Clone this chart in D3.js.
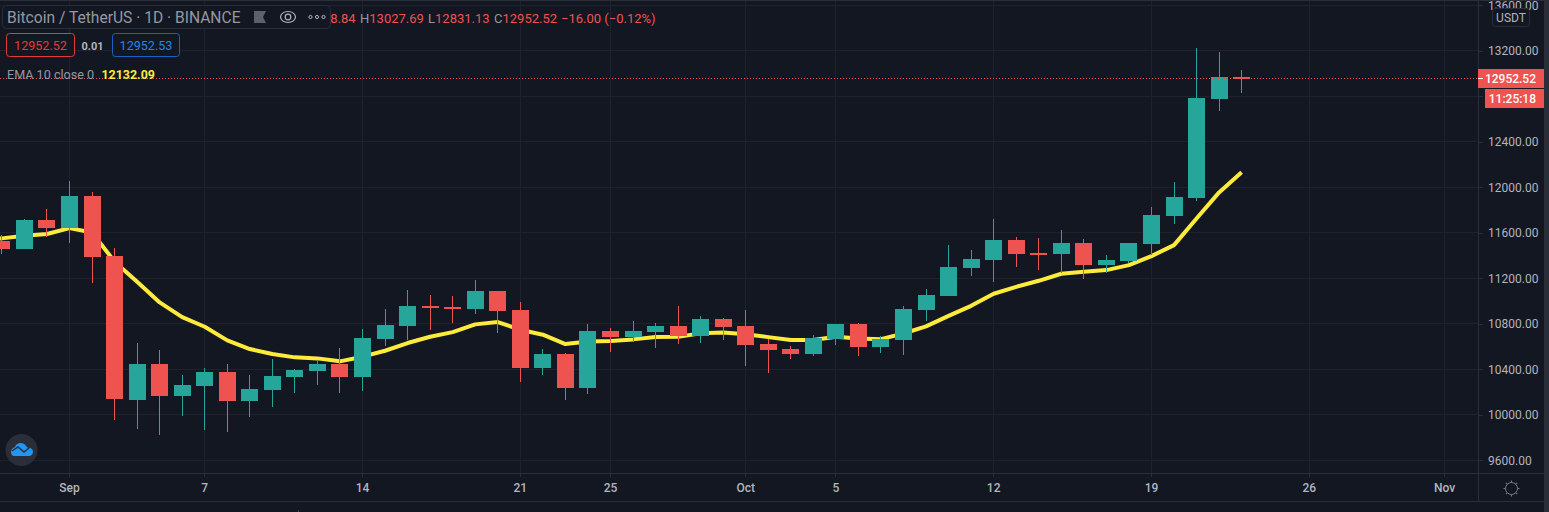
<!DOCTYPE html>
<html>
<head>
<meta charset="utf-8">
<script src="https://cdnjs.cloudflare.com/ajax/libs/d3/7.8.5/d3.min.js"></script>
<style>
html, body { margin: 0; padding: 0; background: #131722; overflow: hidden; }
text { font-family: Roboto, "Liberation Sans", sans-serif; }
</style>
</head>
<body>
<div id="chart"></div>
<script>
var days = ["2020-08-28", "2020-08-29", "2020-08-30", "2020-08-31", "2020-09-01", "2020-09-02", "2020-09-03", "2020-09-04", "2020-09-05", "2020-09-06", "2020-09-07", "2020-09-08", "2020-09-09", "2020-09-10", "2020-09-11", "2020-09-12", "2020-09-13", "2020-09-14", "2020-09-15", "2020-09-16", "2020-09-17", "2020-09-18", "2020-09-19", "2020-09-20", "2020-09-21", "2020-09-22", "2020-09-23", "2020-09-24", "2020-09-25", "2020-09-26", "2020-09-27", "2020-09-28", "2020-09-29", "2020-09-30", "2020-10-01", "2020-10-02", "2020-10-03", "2020-10-04", "2020-10-05", "2020-10-06", "2020-10-07", "2020-10-08", "2020-10-09", "2020-10-10", "2020-10-11", "2020-10-12", "2020-10-13", "2020-10-14", "2020-10-15", "2020-10-16", "2020-10-17", "2020-10-18", "2020-10-19", "2020-10-20", "2020-10-21", "2020-10-22", "2020-10-23"];
var opens = [11560, 11530, 11457, 11712, 11641, 11923, 11395, 10130, 10446, 10165, 10253, 10376, 10121, 10218, 10332, 10385, 10446, 10332, 10666, 10780, 10956, 10947, 10929, 11088, 10921, 10411, 10534, 10235, 10736, 10683, 10727, 10780, 10692, 10842, 10780, 10622, 10578, 10534, 10665, 10797, 10595, 10657, 10920, 11043, 11289, 11360, 11535, 11421, 11412, 11509, 11316, 11351, 11501, 11747, 11905, 12775, 12968.84];
var highs = [11600, 11580, 11720, 11808, 12054, 11958, 11466, 10631, 10569, 10350, 10411, 10446, 10350, 10490, 10402, 10481, 10587, 10754, 10929, 11096, 11052, 11044, 11184, 11088, 10991, 10578, 10543, 10798, 10762, 10824, 10806, 10956, 10868, 10850, 10921, 10663, 10604, 10701, 10797, 10806, 10692, 10955, 11105, 11491, 11448, 11720, 11562, 11553, 11623, 11544, 11404, 11509, 11826, 12045, 13223, 13188, 13027.69];
var lows = [11400, 11413, 11457, 11565, 11510, 11158, 9954, 9875, 9822, 9989, 9866, 9849, 9981, 10068, 10191, 10262, 10191, 10209, 10604, 10657, 10745, 10806, 10885, 10719, 10288, 10350, 10130, 10183, 10552, 10639, 10587, 10622, 10631, 10657, 10429, 10367, 10490, 10516, 10613, 10516, 10542, 10525, 10824, 11043, 11219, 11166, 11298, 11272, 11245, 11193, 11245, 11333, 11404, 11676, 11878, 12669, 12831.13];
var closes = [11530, 11457, 11712, 11641, 11923, 11387, 10139, 10446, 10165, 10262, 10376, 10121, 10227, 10341, 10394, 10446, 10332, 10675, 10789, 10956, 10938, 10929, 11088, 10912, 10411, 10534, 10235, 10736, 10683, 10736, 10780, 10692, 10842, 10771, 10613, 10569, 10534, 10674, 10797, 10595, 10665, 10929, 11052, 11298, 11368, 11535, 11412, 11412, 11509, 11316, 11360, 11509, 11755, 11914, 12783, 12968, 12952.52];
var emaValues = [11530, 11551, 11574, 11589, 11641, 11603, 11346, 11170, 10988, 10859, 10774, 10654, 10578, 10534, 10505, 10496, 10470, 10511, 10563, 10631, 10686, 10727, 10795, 10815, 10748, 10704, 10622, 10645, 10648, 10663, 10683, 10686, 10716, 10724, 10709, 10683, 10657, 10657, 10686, 10671, 10665, 10715, 10777, 10870, 10958, 11064, 11125, 11178, 11240, 11257, 11272, 11316, 11395, 11492, 11726, 11955, 12132.09];
var priceTicks = [9600, 10000, 10400, 10800, 11200, 11600, 12000, 12400, 12800, 13200, 13600];
var timeTicks = ["2020-09-01", "2020-09-07", "2020-09-14", "2020-09-21", "2020-09-25", "2020-10-01", "2020-10-05", "2020-10-12", "2020-10-19", "2020-10-26", "2020-11-01"];
var timeLabels = ["Sep", "7", "14", "21", "25", "Oct", "5", "12", "19", "26", "Nov"];
var lastPrice = 12952.52;

var width = 1549, height = 512,
    paneWidth = 1478, paneHeight = 473, stripX = 1544, bottomY = 501;
var upColor = "#26a69a", downColor = "#ef5350", gridColor = "#1e222d", lineColor = "#2a2e39", textColor = "#b2b5be", dimText = "#9598a1";
var parseDay = d3.utcParse("%Y-%m-%d");

var x = d3.scaleUtc()
    .domain([parseDay("2020-09-01"), parseDay("2020-11-01")])
    .range([69.5, 1444.5]);
var y = d3.scaleLinear()
    .domain([9600, 13600])
    .range([460.3, 5.3]);

var candles = days.map(function (d, i) {
    return {day: parseDay(d), open: opens[i], high: highs[i], low: lows[i], close: closes[i], ema: emaValues[i]};
});

var svg = d3.select("#chart")
    .append("svg")
    .attr("width", width)
    .attr("height", height)
    .style("display", "block");
svg.append("rect")
    .attr("width", width)
    .attr("height", height)
    .attr("fill", "#131722");
svg.append("clipPath")
    .attr("id", "pane")
    .append("rect")
    .attr("width", paneWidth)
    .attr("height", paneHeight);

// grid
var pane = svg.append("g").attr("clip-path", "url(#pane)");
pane.selectAll(".hgrid").data(priceTicks).enter().append("line")
    .attr("x1", 0).attr("x2", paneWidth)
    .attr("y1", function (d) { return Math.floor(y(d)) + 0.5; })
    .attr("y2", function (d) { return Math.floor(y(d)) + 0.5; })
    .attr("stroke", gridColor);
pane.selectAll(".vgrid").data(timeTicks).enter().append("line")
    .attr("x1", function (d) { return Math.floor(x(parseDay(d))) + 0.5; })
    .attr("x2", function (d) { return Math.floor(x(parseDay(d))) + 0.5; })
    .attr("y1", 0).attr("y2", paneHeight)
    .attr("stroke", gridColor);

// ema under the candles
var emaLine = d3.line()
    .x(function (d) { return x(d.day); })
    .y(function (d) { return y(d.ema); });
pane.append("path")
    .datum(candles)
    .attr("d", emaLine)
    .attr("fill", "none")
    .attr("stroke", "#ffeb3b")
    .attr("stroke-width", 4)
    .attr("stroke-linejoin", "round");

function candleColor(d) {
    return d.close >= d.open ? upColor : downColor;
}
var candle = pane.selectAll(".candle").data(candles).enter().append("g")
    .attr("shape-rendering", "crispEdges");
candle.append("rect")
    .attr("x", function (d) { return Math.floor(x(d.day)); })
    .attr("y", function (d) { return y(d.high); })
    .attr("width", 1)
    .attr("height", function (d) { return y(d.low) - y(d.high); })
    .attr("fill", candleColor);
candle.append("rect")
    .attr("x", function (d) { return Math.floor(x(d.day)) - 8; })
    .attr("y", function (d) { return y(Math.max(d.open, d.close)); })
    .attr("width", 17)
    .attr("height", function (d) { return Math.max(2, Math.abs(y(d.open) - y(d.close))); })
    .attr("fill", candleColor);

// last price line
pane.append("line")
    .attr("x1", 0).attr("x2", paneWidth)
    .attr("y1", Math.floor(y(lastPrice)) + 0.5)
    .attr("y2", Math.floor(y(lastPrice)) + 0.5)
    .attr("stroke", downColor)
    .attr("shape-rendering", "crispEdges")
    .attr("stroke-dasharray", "1,2");

// axes
var yAxis = d3.axisRight(y)
    .tickValues(priceTicks)
    .tickFormat(d3.format(".2f"))
    .tickSize(5)
    .tickPadding(5)
    .offset(0.2);
var yAxisG = svg.append("g")
    .attr("transform", "translate(" + paneWidth + ",0)")
    .call(yAxis);
var xAxis = d3.axisBottom(x)
    .tickValues(timeTicks.map(parseDay))
    .tickFormat(function (d, i) { return timeLabels[i]; })
    .tickSize(4)
    .tickPadding(6)
    .offset(0);
var xAxisG = svg.append("g")
    .attr("transform", "translate(0," + paneHeight + ")")
    .call(xAxis);
[yAxisG, xAxisG].forEach(function (g) {
    g.select(".domain").remove();
    g.selectAll("line").attr("stroke", lineColor).attr("shape-rendering", "crispEdges");
    g.selectAll("text").attr("fill", textColor).attr("font-size", 12)
        .style("font-family", "Roboto, sans-serif");
});
yAxisG.selectAll("text").attr("dy", "0.37em");
xAxisG.selectAll("text").attr("font-weight", 500);

// frame of the panes
svg.append("g").attr("stroke", lineColor).selectAll("line")
    .data([[0, 0.5, stripX, 0.5], [0, paneHeight + 0.5, stripX, paneHeight + 0.5], [0, bottomY + 0.5, stripX, bottomY + 0.5], [paneWidth + 0.5, 0, paneWidth + 0.5, bottomY]])
    .enter().append("line")
    .attr("x1", function (d) { return d[0]; })
    .attr("y1", function (d) { return d[1]; })
    .attr("x2", function (d) { return d[2]; })
    .attr("y2", function (d) { return d[3]; });
svg.append("rect")
    .attr("x", stripX).attr("width", width - stripX).attr("height", height)
    .attr("fill", lineColor);
svg.append("rect")
    .attr("x", 298).attr("y", 510).attr("width", 1).attr("height", 2)
    .attr("fill", "#434651");

// ohlc text, the title box covers the start of it
var ohlcLabels = ["O", "H", "L", "C"];
var ohlcValues = ["12968.84", "13027.69", "12831.13", "12952.52"];
var ohlcX = [292, 360, 428, 494];
var ohlc = svg.append("g").attr("font-size", 13);
ohlcLabels.forEach(function (label, i) {
    var t = ohlc.append("text").attr("x", ohlcX[i]).attr("y", 23).attr("fill", downColor);
    t.append("tspan").attr("fill", dimText).text(label);
    t.append("tspan").text(ohlcValues[i]);
});
ohlc.append("text")
    .attr("x", 561).attr("y", 23)
    .attr("fill", downColor)
    .text("\u221216.00 (\u22120.12%)");

svg.append("rect")
    .attr("x", 2.5).attr("y", 5.5).attr("width", 328).attr("height", 23).attr("rx", 4)
    .attr("fill", "#131722").attr("stroke", lineColor);
svg.append("text")
    .attr("x", 7).attr("y", 22.5)
    .attr("font-size", 15.6)
    .attr("fill", dimText)
    .text("Bitcoin / TetherUS \u00b7 1D \u00b7 BINANCE");
// flag, eye and dots of the title box
svg.append("path")
    .attr("d", "M254 11h12l-3 6 3 6h-12z")
    .attr("fill", "#5d606b");
svg.append("ellipse")
    .attr("cx", 288).attr("cy", 17).attr("rx", 7.5).attr("ry", 5.5)
    .attr("fill", "none").attr("stroke", textColor).attr("stroke-width", 1.2);
svg.append("circle")
    .attr("cx", 288).attr("cy", 17).attr("r", 2.8)
    .attr("fill", "none").attr("stroke", textColor).attr("stroke-width", 1.2);
svg.selectAll(".dot").data([310.5, 317, 323.5]).enter().append("circle")
    .attr("cx", function (d) { return d; }).attr("cy", 17).attr("r", 1.6)
    .attr("fill", "none").attr("stroke", textColor);

// bid and ask boxes
svg.append("rect")
    .attr("x", 6.5).attr("y", 33.5).attr("width", 68).attr("height", 23).attr("rx", 3)
    .attr("fill", "#131722").attr("stroke", "#e53935");
svg.append("text")
    .attr("x", 40.5).attr("y", 50).attr("text-anchor", "middle")
    .attr("font-size", 12.6).attr("fill", "#e53935").text("12952.52");
svg.append("text")
    .attr("x", 92.5).attr("y", 49.5).attr("text-anchor", "middle")
    .attr("font-size", 11).attr("font-weight", 700).attr("fill", textColor).text("0.01");
svg.append("rect")
    .attr("x", 112.5).attr("y", 33.5).attr("width", 67).attr("height", 23).attr("rx", 3)
    .attr("fill", "#131722").attr("stroke", "#1565c0");
svg.append("text")
    .attr("x", 146).attr("y", 50).attr("text-anchor", "middle")
    .attr("font-size", 12.6).attr("fill", "#1e88e5").text("12952.53");

// ema legend
svg.append("text")
    .attr("x", 7).attr("y", 78.5)
    .attr("font-size", 12.6).attr("fill", dimText).text("EMA 10 close 0");
svg.append("text")
    .attr("x", 101.5).attr("y", 78.5)
    .attr("font-size", 12.4).attr("font-weight", 700).attr("fill", "#ffeb3b").text("12132.09");

// last price and countdown labels
svg.append("rect")
    .attr("x", paneWidth).attr("y", 69).attr("width", stripX - paneWidth).attr("height", 19)
    .attr("fill", downColor);
svg.append("rect")
    .attr("x", paneWidth).attr("y", 78).attr("width", 5).attr("height", 1)
    .attr("fill", "#fff");
svg.append("text")
    .attr("x", 1536).attr("y", 83).attr("text-anchor", "end")
    .attr("font-size", 12).attr("font-weight", 500).attr("fill", "#fff").text("12952.52");
svg.append("rect")
    .attr("x", 1485).attr("y", 89).attr("width", stripX - 1485).attr("height", 19)
    .attr("fill", downColor);
svg.append("text")
    .attr("x", 1536).attr("y", 103).attr("text-anchor", "end")
    .attr("font-size", 12).attr("font-weight", 500).attr("fill", "#fff").text("11:25:18");

// currency button
svg.append("rect")
    .attr("x", 1492.5).attr("y", 8.5).attr("width", 37).attr("height", 18).attr("rx", 3)
    .attr("fill", "#131722").attr("stroke", lineColor);
svg.append("text")
    .attr("x", 1511).attr("y", 22).attr("text-anchor", "middle")
    .attr("font-size", 12).attr("fill", textColor).text("USDT");

// logo
svg.append("circle").attr("cx", 21.5).attr("cy", 450).attr("r", 16).attr("fill", "#2a2e39");
svg.append("path")
    .attr("d", "M11 452c0-3 2-4 4-5 1-4 8-6 11-1 1 1 2 2 3 2 3 0 4 2 4 4s-2 4-4 4h-15c-2 0-3-2-3-4z")
    .attr("fill", "#2196f3");
svg.append("path")
    .attr("d", "M12 451l6-4 6 5 5-4")
    .attr("fill", "none").attr("stroke", "#2a2e39").attr("stroke-width", 1.5);

// settings sun
svg.append("circle").attr("cx", 1511.5).attr("cy", 488.5).attr("r", 6)
    .attr("fill", "none").attr("stroke", "#787b86");
svg.append("g").attr("stroke", "#787b86").selectAll("line")
    .data(d3.range(0, 360, 45))
    .enter().append("line")
    .attr("transform", function (d) { return "translate(1511.5,488.5) rotate(" + d + ")"; })
    .attr("y1", 6).attr("y2", 8);
</script>
</body>
</html>
